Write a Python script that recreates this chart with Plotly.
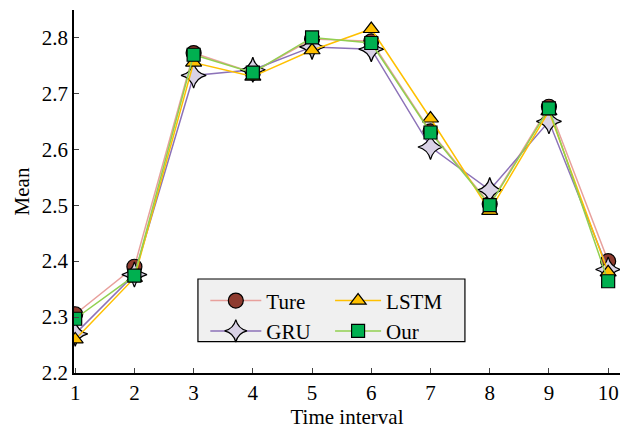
import plotly.graph_objects as go

x = [1, 2, 3, 4, 5, 6, 7, 8, 9, 10]
ture = [2.305, 2.390, 2.772, 2.737, 2.797, 2.793, 2.632, 2.502, 2.676, 2.400]
gru = [2.270, 2.376, 2.732, 2.742, 2.783, 2.779, 2.604, 2.527, 2.650, 2.385]
lstm = [2.260, 2.370, 2.755, 2.730, 2.777, 2.815, 2.655, 2.490, 2.668, 2.380]
our = [2.297, 2.374, 2.769, 2.737, 2.800, 2.790, 2.630, 2.500, 2.673, 2.364]
xticks = [1, 2, 3, 4, 5, 6, 7, 8, 9, 10]
yticks = [2.2, 2.3, 2.4, 2.5, 2.6, 2.7, 2.8]

font = "Liberation Serif"
fig = go.Figure()

def add(name, y, lc, mc, sym, size, legend):
    fig.add_trace(go.Scatter(
        x=x, y=y, name=name, mode="lines+markers", legend=legend,
        line=dict(color=lc, width=1.5),
        marker=dict(symbol=sym, size=size, color=mc, line=dict(color="black", width=1.2)),
    ))

add("Ture", ture, "#e8a09c", "#8e3b2f", "circle", 15, "legend")
add("GRU", gru, "#8c72b8", "#d9d2e6", "star-diamond", 18, "legend")
add("LSTM", lstm, "#ffc000", "#ffc000", "triangle-up", 14, "legend2")
add("Our", our, "#92d050", "#00b050", "square", 13, "legend2")

# legend background box
fig.add_shape(type="rect", xref="paper", yref="paper",
              x0=0.227, x1=0.716, y0=0.0865, y1=0.259,
              fillcolor="#f0f0f0", line=dict(color="black", width=1.2), layer="above")

leg_common = dict(orientation="v", yanchor="top", xanchor="left",
                  bgcolor="rgba(0,0,0,0)", borderwidth=0,
                  font=dict(family=font, size=21), traceorder="normal",
                  tracegroupgap=0)

fig.update_layout(
    width=627, height=431,
    margin=dict(l=74, r=7, t=10, b=51),
    paper_bgcolor="white", plot_bgcolor="white",
    font=dict(family=font, size=21, color="black"),
    showlegend=True,
    legend=dict(x=0.2405, y=0.255, itemwidth=51, **leg_common),
    legend2=dict(x=0.469, y=0.255, itemwidth=46, **leg_common),
    xaxis=dict(
        range=[0.98, 10.2], tickvals=xticks, ticks="inside", ticklen=5,
        showline=True, linecolor="black", linewidth=1.5, showgrid=False,
        zeroline=False, mirror=False, tickfont=dict(size=21),
        title=dict(text="Time interval", font=dict(size=21), standoff=4),
    ),
    yaxis=dict(
        range=[2.2, 2.849], tickvals=yticks, tickformat=".1f", ticks="inside", ticklen=5,
        showline=True, linecolor="black", linewidth=1.5, showgrid=False,
        zeroline=False, mirror=False, tickfont=dict(size=21),
        title=dict(text="Mean", font=dict(size=21), standoff=6),
    ),
)
fig.write_html("out.html", config={"displayModeBar": False},
               post_script="document.body.style.margin='0';")
